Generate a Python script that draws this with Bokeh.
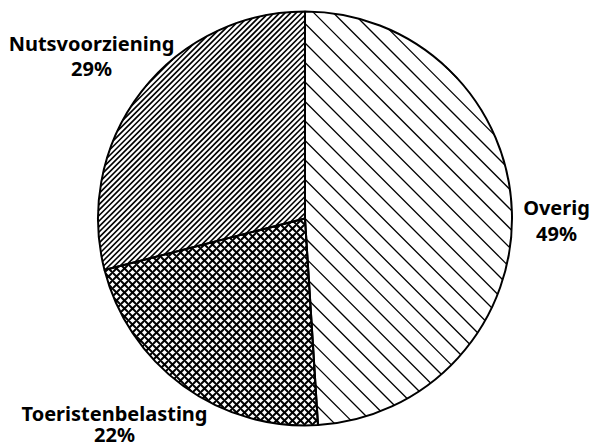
import math
from bokeh.plotting import figure
from bokeh.models import Range1d, ColumnDataSource
from bokeh.core.properties import value
from bokeh.embed import file_html
from bokeh.resources import INLINE

# Data
categories = ["Overig", "Toeristenbelasting", "Nutsvoorziening"]
shares = [49, 22, 29]
labels = ["49%", "22%", "29%"]

W, H = 594, 447
p = figure(width=W, height=H, output_backend="svg", toolbar_location=None,
           x_range=Range1d(0, W), y_range=Range1d(0, H), min_border=0)
p.axis.visible = False
p.grid.visible = False
p.outline_line_color = None
p.background_fill_color = "white"

def py(Y):
    return H - Y

cx, cy, r = 304.5, py(218), 207

total = sum(shares)
cum = 0
starts, ends = [], []
for s in shares:
    c0 = cum / total
    cum += s
    c1 = cum / total
    starts.append(math.pi / 2 - 2 * math.pi * c1)
    ends.append(math.pi / 2 - 2 * math.pi * c0)

# Hatch style per slice: (direction in data space or None for built-in cross, spacing, weight)
hatch_dirs = [(1, -1), None, (1, 1)]
hatch_spacing = [19.5, 8, 5.5]
hatch_weight = [1.3, 2.0, 1.6]


def sector_hatch(a0, a1, d, s):
    dl = math.hypot(*d)
    dx, dy = d[0] / dl, d[1] / dl
    nx, ny = -dy, dx
    u0 = (math.cos(a0), math.sin(a0))
    u1 = (math.cos(a1), math.sin(a1))
    cr = lambda a, b: a[0] * b[1] - a[1] * b[0]
    step = s / math.sqrt(2)
    xs, ys = [], []
    k = -int(r / step) - 1
    while k * step < r:
        o = k * step
        k += 1
        if abs(o) >= r:
            continue
        h = math.sqrt(r * r - o * o)
        lo, hi = -h, h
        ok = True
        for a, b in ((o * cr(u0, (nx, ny)), cr(u0, (dx, dy))),
                     (o * cr((nx, ny), u1), cr((dx, dy), u1))):
            if abs(b) < 1e-12:
                if a < 0:
                    ok = False
            elif b > 0:
                lo = max(lo, -a / b)
            else:
                hi = min(hi, -a / b)
        if not ok or hi <= lo:
            continue
        px0, py0 = cx + o * nx, cy + o * ny
        xs.append([px0 + lo * dx, px0 + hi * dx])
        ys.append([py0 + lo * dy, py0 + hi * dy])
    return xs, ys


for i in range(len(categories)):
    if hatch_dirs[i] is None:
        p.wedge(x=cx, y=cy, radius=r, start_angle=starts[i], end_angle=ends[i],
                fill_color="white", line_color=None,
                hatch_pattern="diagonal_cross", hatch_color="black",
                hatch_scale=hatch_spacing[i], hatch_weight=hatch_weight[i])
    else:
        p.wedge(x=cx, y=cy, radius=r, start_angle=starts[i], end_angle=ends[i],
                fill_color="white", line_color=None)
        xs, ys = sector_hatch(starts[i], ends[i], hatch_dirs[i], hatch_spacing[i])
        p.multi_line(xs=xs, ys=ys, line_color="black", line_width=hatch_weight[i])

for i in range(len(categories)):
    p.wedge(x=cx, y=cy, radius=r, start_angle=starts[i], end_angle=ends[i],
            fill_color=None, line_color="black", line_width=2)

# Labels
name_x = [556, 114, 91]
name_y = [py(207), py(413), py(43)]
pct_y = [py(233), py(434), py(68)]

src = ColumnDataSource(dict(x=name_x, y=name_y, t=categories))
src2 = ColumnDataSource(dict(x=name_x, y=pct_y, t=labels))
for s_ in (src, src2):
    p.text(x="x", y="y", text="t", source=s_, text_align="center",
           text_baseline="alphabetic", text_font=value("Noto Sans"),
           text_font_style="bold", text_font_size="20px", text_color="black")

open("out.html", "w").write(file_html(p, INLINE))
